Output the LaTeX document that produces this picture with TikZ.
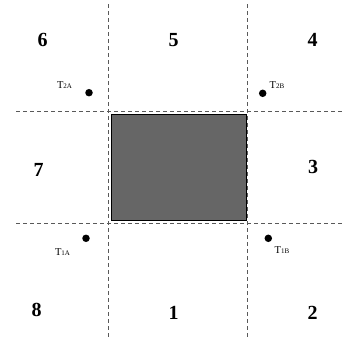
\documentclass[tikz,border=0pt]{standalone}
\usepackage{fontspec}
\setmainfont{Liberation Serif}

\tikzset{
  zone/.style={font=\fontsize{20}{20}\selectfont\bfseries, inner sep=0pt},
  gridline/.style={draw=black!65, line width=0.8pt, dash pattern=on 4pt off 3pt},
  dot/.style={circle, fill=black, inner sep=0pt, minimum size=7.5pt},
  tag/.style={font=\fontsize{10.5}{10.5}\selectfont, inner sep=0pt}
}
\newcommand{\tname}[2]{T{\fontsize{7}{7}\selectfont #1#2}}

\begin{document}
\begin{tikzpicture}[x=1pt,y=-1pt]
  \useasboundingbox (0,0) rectangle (345,343);

  % garis putus-putus vertikal
  \foreach \x in {108,247} {
      \draw[gridline] (\x,4) -- (\x,339);
    }

  % garis putus-putus horizontal
  \foreach \y in {111.5,223} {
      \draw[gridline] (16,\y) -- (345,\y);
    }

  % kotak tengah
  \draw[fill=black!60, line width=0.9pt] (111,114) rectangle (246,220);

  % nomor zona
  \foreach \n/\x/\y in {1/173.5/313, 2/312.5/313, 3/313/166.5, 4/312.5/40,
      5/173.5/40, 6/42.5/40, 7/38.5/170, 8/36.5/310} {
      \node[zone] (z\n) at (\x,\y) {\n};
    }

  % titik dan label
  \node[dot] (p2a) at (89,92.7) {};
  \node[tag] (t2a) at (64.5,85) {\tname{2}{A}};
  \node[dot] (p2b) at (262.7,93.3) {};
  \node[tag] (t2b) at (277,85) {\tname{2}{B}};
  \node[dot] (p1a) at (86,238.3) {};
  \node[tag] (t1a) at (62.5,252) {\tname{1}{A}};
  \node[dot] (p1b) at (268.3,238.3) {};
  \node[tag] (t1b) at (282,250) {\tname{1}{B}};
\end{tikzpicture}
\end{document}
